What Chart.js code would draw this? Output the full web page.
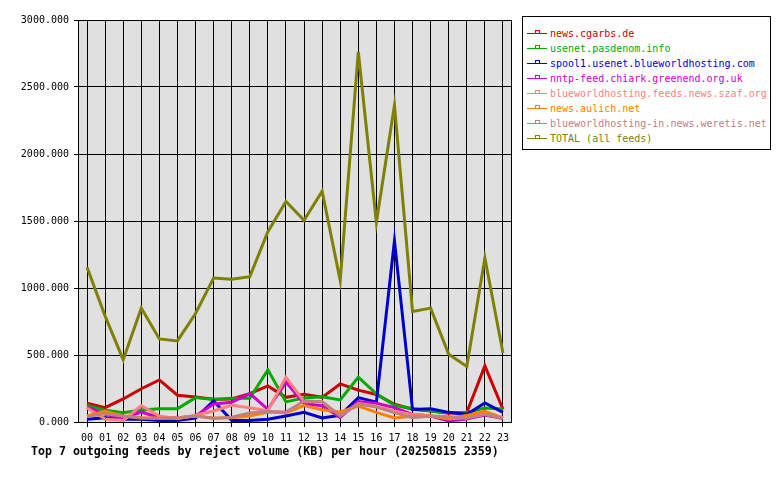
<!DOCTYPE html>
<html>
<head>
<meta charset="utf-8">
<script src="https://cdn.jsdelivr.net/npm/chart.js@4/dist/chart.umd.min.js"></script>
<style>
  body { margin: 0; background: #fff; }
  #wrap { position: relative; width: 780px; height: 480px; }
  #legend {
    position: absolute; left: 522px; top: 16px; width: 247px; height: 132px;
    border: 1px solid #000; background: #fff;
    font-family: "DejaVu Sans Mono", monospace; font-size: 10px;
  }
  .row { position: absolute; left: 4px; height: 15px; line-height: 15px; white-space: nowrap; }
  .mark { position: absolute; left: 0; top: 7px; width: 20px; height: 0; border-top: 1px solid; }
  .mark i { position: absolute; left: 8px; top: -4px; width: 3px; height: 2px; border: 1px solid; border-bottom: none; }
  .row span { position: absolute; left: 23px; top: 0; }
</style>
</head>
<body>
<div id="wrap">
  <canvas id="feedChart" width="780" height="480"></canvas>
  <div id="legend"></div>
</div>
<script>
const hours = ["00","01","02","03","04","05","06","07","08","09","10","11",
               "12","13","14","15","16","17","18","19","20","21","22","23"];

const feedNames = [
  "news.cgarbs.de",
  "usenet.pasdenom.info",
  "spool1.usenet.blueworldhosting.com",
  "nntp-feed.chiark.greenend.org.uk",
  "blueworldhosting.feeds.news.szaf.org",
  "news.aulich.net",
  "blueworldhosting-in.news.weretis.net",
  "TOTAL (all feeds)"
];
const feedColors = ["#cc0000", "#00aa00", "#0000cc", "#cc00cc", "#ff8080", "#ff8000", "#c08080", "#808000"];

const cgarbs   = [140,107,172,248,314,200,187,170,172,212,269,184,207,184,284,238,205,132,95,82,65,70,419,95];
const pasdenom = [125,88,70,90,98,98,182,168,177,177,389,150,180,188,165,334,210,125,100,82,70,70,105,97];
const spool1   = [20,32,20,20,12,12,30,157,12,12,20,45,72,30,50,182,148,1352,93,98,72,57,142,72];
const chiark   = [110,60,25,75,32,30,45,135,148,212,95,298,138,122,34,152,140,107,57,45,8,22,52,25];
const szaf     = [105,22,12,122,45,25,50,82,125,107,84,334,152,152,48,138,120,80,57,45,25,32,60,32];
const aulich   = [45,80,45,32,30,30,45,30,32,45,75,70,122,92,75,118,72,30,42,45,30,48,80,30];
const weretis  = [40,62,42,30,27,32,45,27,35,67,78,75,157,152,45,135,112,70,32,45,40,28,57,28];
const total    = [1155,790,465,850,620,605,810,1075,1065,1085,1420,1645,1505,1722,1055,2763,1490,2364,825,850,505,415,1224,515];

const series = [cgarbs, pasdenom, spool1, chiark, szaf, aulich, weretis, total];

const chartTitle = "Top 7 outgoing feeds by reject volume (KB) per hour (20250815 2359)";
const monoFont = "'DejaVu Sans Mono', monospace";

// grey plot background, a box round the plot area, and the title underneath
const plotBox = {
  id: "plotBox",
  beforeDraw(chart) {
    const a = chart.chartArea, ctx = chart.ctx;
    ctx.save();
    ctx.fillStyle = "#e0e0e0";
    ctx.fillRect(a.left, a.top, a.right - a.left, a.bottom - a.top);
    ctx.restore();
  },
  afterDraw(chart) {
    const a = chart.chartArea, ctx = chart.ctx;
    ctx.save();
    ctx.strokeStyle = "#000";
    ctx.lineWidth = 1;
    ctx.strokeRect(a.left + 0.5, a.top + 0.5, a.right - a.left - 1, a.bottom - a.top);
    ctx.fillStyle = "#000";
    ctx.font = "bold 11.6px " + monoFont;
    ctx.textBaseline = "middle";
    ctx.textAlign = "left";
    ctx.fillText(chartTitle, 31, 452);
    ctx.restore();
  }
};

new Chart(document.getElementById("feedChart"), {
  type: "line",
  data: {
    labels: hours,
    datasets: series.map((vals, i) => ({
      label: feedNames[i],
      data: vals,
      borderColor: feedColors[i],
      backgroundColor: feedColors[i],
      borderWidth: 3,
      pointRadius: 0,
      tension: 0,
      order: -i
    }))
  },
  options: {
    responsive: false,
    animation: false,
    layout: { padding: { left: 0, top: 20, right: 268, bottom: 38 } },
    plugins: {
      legend: { display: false },
      tooltip: { enabled: false }
    },
    scales: {
      x: {
        offset: true,
        grid: { offset: false, color: "#000", lineWidth: 1, tickLength: 5, drawTicks: true },
        border: { display: false },
        ticks: { color: "#000", font: { family: monoFont, size: 10 }, padding: 5, maxRotation: 0, autoSkip: false },
        afterFit(scale) { scale.height = 20; }
      },
      y: {
        min: 0,
        max: 3000,
        grid: { color: "#000", lineWidth: 1, tickLength: 4 },
        border: { color: "#000" },
        ticks: {
          stepSize: 500,
          color: "#000",
          padding: 5,
          font: { family: monoFont, size: 10 },
          callback: (v) => v.toFixed(3)
        },
        afterFit(scale) { scale.width = 78; }
      }
    }
  },
  plugins: [plotBox]
});

// boxed legend on the right
const legendBox = document.getElementById("legend");
feedNames.forEach((name, i) => {
  const row = document.createElement("div");
  row.className = "row";
  row.style.top = (9 + i * 15) + "px";
  row.style.color = feedColors[i];
  row.innerHTML = '<div class="mark" style="border-color:' + feedColors[i] + '"><i style="border-color:' +
    feedColors[i] + '"></i></div><span></span>';
  row.querySelector("span").textContent = name;
  legendBox.appendChild(row);
});
</script>
</body>
</html>
